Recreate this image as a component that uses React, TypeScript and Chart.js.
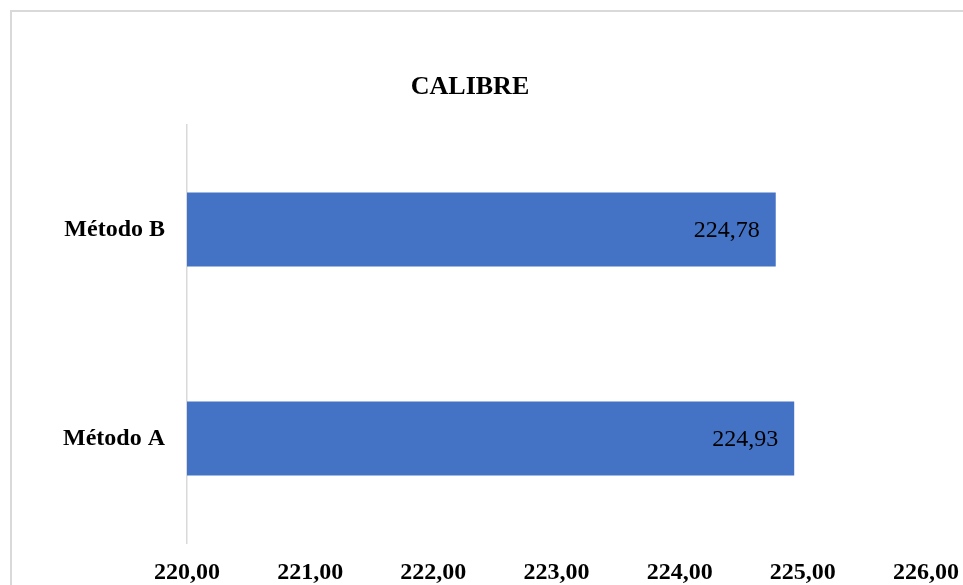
import React, { useEffect, useRef } from "react";
import { Chart, registerables } from "chart.js";

Chart.register(...registerables);

const categories = ["Método A", "Método B"];
const values = [224.93, 224.78];
const xMin = 220;
const xMax = 226;
const chartTitle = "CALIBRE";

const fmt = (v: number) => v.toFixed(2).replace(".", ",");

const FONT = "'Liberation Serif', 'Times New Roman', serif";

const valueLabels = {
  id: "valueLabels",
  afterDatasetsDraw(chart: any) {
    const ctx = chart.ctx;
    const meta = chart.getDatasetMeta(0);
    ctx.save();
    ctx.font = `24px ${FONT}`;
    ctx.fillStyle = "#000000";
    ctx.textAlign = "right";
    ctx.textBaseline = "middle";
    meta.data.forEach((bar: any, i: number) => {
      ctx.fillText(fmt(values[i]), bar.x - 16, bar.y + 1);
    });
    ctx.restore();
  },
};

export default function App() {
  const ref = useRef<HTMLCanvasElement | null>(null);
  useEffect(() => {
    if (!ref.current) return;
    const chart = new Chart(ref.current, {
      type: "bar",
      data: {
        labels: categories,
        datasets: [
          {
            data: values,
            backgroundColor: "#4472C4",
            borderWidth: 0,
            categoryPercentage: 1,
            barPercentage: 0.354,
          },
        ],
      },
      options: {
        indexAxis: "y",
        animation: false,
        responsive: false,
        devicePixelRatio: 1,
        layout: { padding: { left: 14, right: 37, top: 0, bottom: 0 } },
        plugins: {
          legend: { display: false },
          tooltip: { enabled: false },
          title: {
            display: true,
            text: chartTitle,
            color: "#000000",
            font: { family: FONT, size: 26, weight: "bold", lineHeight: 1.2 },
            padding: { top: 71.4, bottom: 22.4 },
          },
        },
        scales: {
          x: {
            type: "linear",
            min: xMin,
            max: xMax,
            grid: { display: false, drawTicks: false },
            border: { display: false },
            ticks: {
              stepSize: 1,
              padding: 15.6,
              color: "#000000",
              font: { family: FONT, size: 24, weight: "bold", lineHeight: 1.2 },
              callback: (v: any) => fmt(Number(v)),
            },
            afterFit: (scale: any) => {
              scale.height = 42;
              scale.paddingLeft = 0;
              scale.paddingRight = 0;
            },
          },
          y: {
            reverse: true,
            grid: { display: false, drawTicks: false },
            border: { display: true, color: "#d9d9d9", width: 1.5 },
            ticks: {
              padding: 22,
              color: "#000000",
              font: { family: FONT, size: 24, weight: "bold" },
            },
            afterFit: (scale: any) => {
              scale.width = 173;
            },
          },
        },
      },
      plugins: [valueLabels],
    });
    return () => chart.destroy();
  }, []);

  return (
    <div>
      <div
        style={{
          position: "fixed",
          left: 10,
          top: 10,
          width: 1100,
          height: 800,
          border: "2px solid #d9d9d9",
          boxSizing: "border-box",
        }}
      />
      <canvas
        ref={ref}
        width={963}
        height={585}
        style={{ position: "fixed", left: 0, top: 0, width: 963, height: 585 }}
      />
    </div>
  );
}
